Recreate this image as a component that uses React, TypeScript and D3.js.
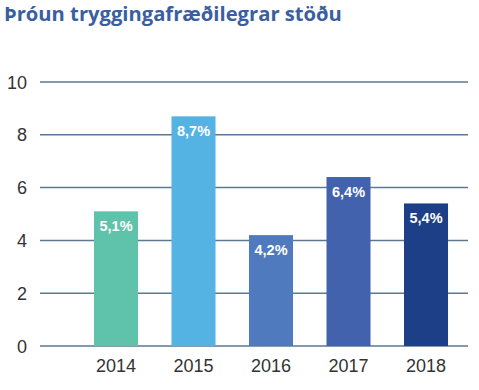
import React from "react";
import * as d3 from "d3";

const years = ["2014", "2015", "2016", "2017", "2018"];
const values = [5.1, 8.7, 4.2, 6.4, 5.4];
const valueLabels = ["5,1%", "8,7%", "4,2%", "6,4%", "5,4%"];
const barColors = ["#5FC3AC", "#55B3E4", "#4F7BBE", "#4362AD", "#1D3F87"];
const yTicks = [0, 2, 4, 6, 8, 10];
const title = "Þróun tryggingafræðilegrar stöðu";

export default function App() {
  const W = 479, H = 390;
  const y = d3.scaleLinear().domain([0, 10]).range([346, 82]);
  const x = d3.scaleBand<string>().domain(years).range([77.26, 464.76]).paddingInner(0.432).paddingOuter(0.216);
  const gridX0 = 40, gridX1 = 468;
  return (
    <div style={{ position: "absolute", left: 0, top: 0 }}>
      <svg width={W} height={H} style={{ display: "block", background: "#fff" }}>
        <text x={4} y={21} fontFamily="'Open Sans', sans-serif" fontWeight={700} fontSize={20.2} fill="#3A5E9F">{title}</text>
        {yTicks.map((t) => (
          <g key={t}>
            <line x1={gridX0} x2={gridX1} y1={y(t)} y2={y(t)} stroke="#5C7892" strokeWidth={1.5} />
            <text x={27} y={y(t) + 6.5} textAnchor="end" fontFamily="'Liberation Sans', Arial, sans-serif" fontSize={18} fill="#333">{t}</text>
          </g>
        ))}
        {years.map((yr, i) => (
          <g key={yr}>
            <rect x={x(yr)} y={y(values[i])} width={x.bandwidth()} height={y(0) - y(values[i])} fill={barColors[i]} />
            <text x={(x(yr) as number) + x.bandwidth() / 2} y={y(values[i]) + 20} textAnchor="middle" fontFamily="'Liberation Sans', Arial, sans-serif" fontWeight={700} fontSize={14.5} fill="#fff">{valueLabels[i]}</text>
            <text x={(x(yr) as number) + x.bandwidth() / 2} y={372} textAnchor="middle" fontFamily="'Liberation Sans', Arial, sans-serif" fontSize={18} fill="#333">{yr}</text>
          </g>
        ))}
      </svg>
    </div>
  );
}
